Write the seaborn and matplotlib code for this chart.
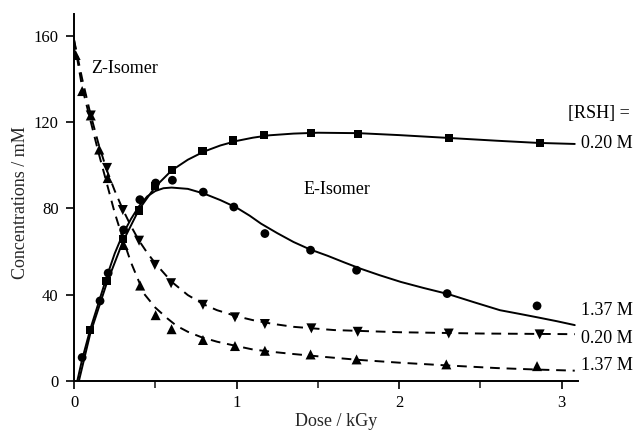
import matplotlib
matplotlib.use("Agg")
import matplotlib.pyplot as plt
import seaborn as sns

# Measured points: E-isomer (solid fits) and Z-isomer (dashed fits)
e_020_dose = [0.10, 0.20, 0.30, 0.40, 0.50, 0.60, 0.79, 0.98, 1.17, 1.46, 1.745, 2.305, 2.864]
e_020_conc = [23.6, 46.2, 65.8, 79.0, 90.5, 97.8, 106.5, 111.4, 114.0, 114.8, 114.5, 112.5, 110.4]

e_137_dose = [0.05, 0.16, 0.21, 0.305, 0.405, 0.502, 0.605, 0.795, 0.983, 1.174, 1.455, 1.738, 2.295, 2.848]
e_137_conc = [10.9, 37.1, 50.0, 70.0, 84.0, 91.7, 93.0, 87.5, 80.6, 68.3, 60.6, 51.3, 40.5, 34.8]

z_020_dose = [0.103, 0.203, 0.30, 0.40, 0.497, 0.597, 0.793, 0.99, 1.174, 1.46, 1.745, 2.305, 2.864]
z_020_conc = [123.0, 98.7, 79.2, 65.0, 53.8, 45.3, 35.3, 29.5, 26.4, 24.4, 22.8, 22.0, 21.6]

z_137_dose = [0.01, 0.05, 0.103, 0.155, 0.207, 0.305, 0.407, 0.502, 0.60, 0.793, 0.99, 1.174, 1.455, 1.738, 2.29, 2.848]
z_137_conc = [151.0, 134.3, 123.0, 107.2, 94.0, 63.0, 44.2, 30.5, 24.0, 19.0, 16.2, 14.0, 12.3, 10.0, 7.7, 6.9]

# Fitted curves, traced as (dose, concentration) pairs
fit_e_020_dose = [0.03, 0.10, 0.20, 0.30, 0.40, 0.50, 0.60, 0.70, 0.80, 0.90, 1.00, 1.10, 1.20, 1.35, 1.50, 1.75, 2.00, 2.30, 2.60, 2.85, 3.08]
fit_e_020_conc = [0.0, 22.0, 45.0, 64.5, 79.5, 90.0, 97.5, 102.5, 106.3, 109.1, 111.2, 112.7, 113.8, 114.6, 115.0, 114.8, 113.9, 112.6, 111.3, 110.3, 109.8]

fit_e_137_dose = [0.02, 0.05, 0.10, 0.15, 0.20, 0.25, 0.30, 0.35, 0.40, 0.45, 0.50, 0.55, 0.60, 0.70, 0.80, 0.90, 1.00, 1.08, 1.15, 1.25, 1.35, 1.45, 1.56, 1.66, 1.76, 1.88, 2.01, 2.15, 2.30, 2.46, 2.62, 2.74, 2.85, 2.97, 3.08]
fit_e_137_conc = [0.0, 10.0, 24.0, 36.0, 48.0, 59.0, 68.0, 75.0, 81.0, 85.5, 88.0, 89.3, 89.6, 89.0, 86.8, 83.8, 80.3, 76.6, 72.9, 68.5, 64.4, 61.0, 58.0, 55.0, 52.1, 49.0, 45.9, 43.1, 40.3, 36.5, 32.8, 31.1, 29.5, 27.7, 25.9]

fit_z_020_dose = [0.0, 0.05, 0.10, 0.15, 0.20, 0.25, 0.30, 0.35, 0.40, 0.45, 0.50, 0.60, 0.70, 0.80, 0.88, 1.00, 1.10, 1.22, 1.35, 1.60, 2.00, 2.50, 3.08]
fit_z_020_conc = [158.0, 140.0, 124.0, 110.0, 98.0, 88.2, 79.5, 71.8, 65.0, 59.4, 54.5, 46.0, 39.8, 35.4, 32.8, 30.0, 28.2, 26.5, 25.1, 23.6, 22.6, 22.0, 21.7]

fit_z_137_dose = [0.0, 0.05, 0.10, 0.15, 0.20, 0.25, 0.30, 0.35, 0.43, 0.50, 0.574, 0.63, 0.70, 0.78, 0.88, 1.00, 1.10, 1.22, 1.35, 1.55, 1.75, 2.00, 2.30, 2.60, 2.85, 3.08]
fit_z_137_conc = [158.0, 136.0, 121.0, 106.0, 92.0, 78.0, 66.0, 55.0, 40.5, 34.0, 29.0, 25.6, 22.8, 20.4, 18.2, 16.2, 14.6, 13.5, 12.5, 11.1, 9.8, 8.5, 7.2, 6.0, 5.3, 4.8]

x_ticks = [0, 1, 2, 3]
y_ticks = [0, 40, 80, 120, 160]

sns.set_theme(style="ticks")
plt.rcParams["font.family"] = ["Liberation Serif", "DejaVu Serif"]

fig = plt.figure(figsize=(6.37, 4.37), dpi=100)
ax = fig.add_axes([0.1162, 0.1281, 0.7912, 0.8399])

line_kw = dict(color="black", linewidth=1.4, ax=ax, legend=False, sort=False)
sns.lineplot(x=fit_e_020_dose, y=fit_e_020_conc, **line_kw)
sns.lineplot(x=fit_e_137_dose, y=fit_e_137_conc, **line_kw)
sns.lineplot(x=fit_z_020_dose, y=fit_z_020_conc, **line_kw)
ax.lines[-1].set_dashes([5, 3.5])
sns.lineplot(x=fit_z_137_dose, y=fit_z_137_conc, **line_kw)
ax.lines[-1].set_dashes([5, 3.5])

pt_kw = dict(color="black", edgecolor="none", ax=ax, legend=False, zorder=3)
sns.scatterplot(x=e_020_dose, y=e_020_conc, marker="s", s=34, **pt_kw)
sns.scatterplot(x=e_137_dose, y=e_137_conc, marker="o", s=40, **pt_kw)
sns.scatterplot(x=z_020_dose, y=z_020_conc, marker="v", s=52, **pt_kw)
sns.scatterplot(x=z_137_dose, y=z_137_conc, marker="^", s=52, **pt_kw)

ax.set_xlim(0, 3.1)
ax.set_ylim(0, 170)
ax.set_xticks(x_ticks)
ax.set_xticks([0.5, 1.5, 2.5], minor=True)
ax.set_yticks(y_ticks)
ax.set_xticklabels([str(t) for t in x_ticks])
ax.set_yticklabels([str(t) for t in y_ticks])
ax.tick_params(axis="both", which="major", direction="out", length=6, width=1.2,
               labelsize=12, colors="black")
ax.tick_params(axis="x", which="major", pad=4)
ax.tick_params(axis="y", which="major", pad=5)
ax.tick_params(axis="x", which="minor", direction="out", length=5, width=1.2)
sns.despine(ax=ax)
for side in ("left", "bottom"):
    ax.spines[side].set_linewidth(1.4)
    ax.spines[side].set_color("black")

ax.set_xlabel("Dose / kGy", fontsize=13)
ax.set_ylabel("Concentrations / mM", fontsize=13)
ax.xaxis.set_label_coords(0.52, -0.088)
ax.yaxis.set_label_coords(-0.089, 0.487)

txt_kw = dict(fontsize=13, color="black", va="center", clip_on=False)
ax.text(0.107, 144.7, "Z-Isomer", ha="left", **txt_kw)
ax.text(1.41, 88.6, "E-Isomer", ha="left", **txt_kw)
ax.text(3.04, 123.8, "[RSH] =", ha="left", **txt_kw)
ax.text(3.12, 109.9, "0.20 M", ha="left", **txt_kw)
ax.text(3.12, 32.8, "1.37 M", ha="left", **txt_kw)
ax.text(3.12, 19.7, "0.20 M", ha="left", **txt_kw)
ax.text(3.12, 7.4, "1.37 M", ha="left", **txt_kw)

fig.savefig("out.png", dpi=100)
